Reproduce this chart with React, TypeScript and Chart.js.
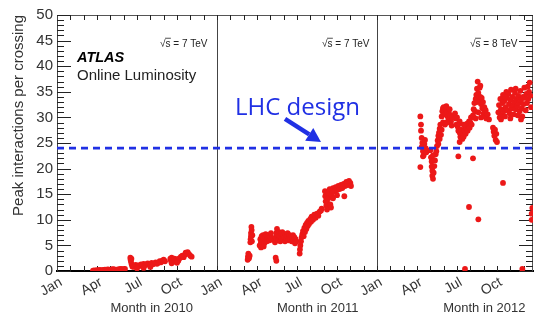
import React, { useEffect, useRef } from 'react';
import { Chart, registerables } from 'chart.js';

Chart.register(...registerables);

// ---------- data ----------
const years = [2010, 2011, 2012];
const quarterLabels = ['Jan', 'Apr', 'Jul', 'Oct'];
const energyLabels = ['7 TeV', '7 TeV', '8 TeV'];
const lhcDesign = 24;
const yMax = 50;
const monthsSpan = 35.7;

// [month within the year (0 = 1 Jan), peak interactions per crossing]
const run2010: [number, number][] = [
  [2.7, 0.05], [2.8, 0.1], [2.9, 0.05], [3.0, 0.15], [3.1, 0.1], [3.2, 0.2], [3.3, 0.1], [3.4, 0.15],
  [3.5, 0.2], [3.6, 0.25], [3.7, 0.2], [3.8, 0.3], [3.9, 0.25], [4.0, 0.2], [4.1, 0.3], [4.2, 0.35],
  [4.3, 0.3], [4.5, 0.25], [4.6, 0.3], [4.7, 0.35], [4.8, 0.4], [4.9, 0.3], [5.0, 0.35], [5.1, 0.4],
  [5.5, 2.6], [5.52, 2.2], [5.55, 1.8], [5.58, 2.4], [5.6, 1.3], [5.65, 0.9], [5.7, 1.1], [5.75, 0.8],
  [5.8, 1.0], [5.9, 1.2], [6.0, 0.9], [6.1, 1.1], [6.2, 1.0], [6.3, 1.3], [6.4, 1.2], [6.5, 1.4],
  [6.6, 1.1], [6.7, 1.3], [6.8, 1.5], [6.9, 1.2], [7.0, 1.4], [7.1, 1.6], [7.2, 1.3], [7.3, 1.5],
  [7.4, 1.7], [7.5, 1.4], [7.6, 1.6], [7.7, 1.9], [7.8, 1.7], [7.9, 2.0], [8.0, 2.2], [8.1, 1.9],
  [6.0, 0.5], [6.5, 0.6], [7.0, 0.8],
  [8.5, 2.4], [8.55, 2.0], [8.6, 2.6], [8.65, 1.7], [8.7, 2.2], [8.8, 2.4], [8.9, 2.1], [9.0, 2.3],
  [9.1, 2.0], [9.2, 2.5], [9.3, 2.8], [9.4, 3.0], [9.5, 2.7], [9.6, 3.2], [9.65, 3.6], [9.7, 3.4],
  [9.8, 3.7], [9.9, 3.3], [10.0, 3.0], [10.1, 2.8], [8.6, 1.5], [9.0, 1.6],
];

const run2011: [number, number][] = [
  [2.3, 2.2], [2.32, 2.8], [2.35, 3.4], [2.4, 2.5], [2.45, 3.0], [2.5, 5.6], [2.52, 6.2], [2.55, 6.8],
  [2.55, 7.4], [2.6, 8.0], [2.58, 8.6], [2.62, 5.8], [2.65, 7.0],
  [3.2, 5.0], [3.25, 6.2], [3.3, 5.6], [3.35, 6.8], [3.4, 6.0], [3.45, 7.0], [3.5, 6.4], [3.55, 5.4],
  [3.6, 6.6], [3.65, 7.2], [3.7, 6.2], [3.75, 5.8], [3.8, 6.6], [3.85, 7.0], [3.9, 6.4], [3.95, 6.0],
  [4.0, 6.8], [4.05, 7.4], [4.1, 6.2], [3.3, 4.6], [3.5, 4.8],
  [4.4, 2.6], [4.45, 2.0], [4.35, 5.6], [4.4, 6.6], [4.45, 7.4], [4.5, 8.2], [4.55, 7.0], [4.6, 6.0],
  [4.65, 7.6], [4.7, 6.8], [4.75, 5.8], [4.8, 7.2], [4.85, 6.4], [4.9, 7.6], [4.95, 6.2], [5.0, 7.0],
  [5.05, 6.6], [5.1, 5.8], [5.15, 7.2], [5.2, 6.4], [5.25, 6.8], [5.3, 7.4], [5.35, 6.0], [5.4, 6.6],
  [5.45, 7.0], [5.5, 6.2], [5.55, 6.8], [5.6, 5.8], [5.65, 6.4], [5.7, 7.0], [5.75, 6.0], [5.8, 6.6],
  [5.85, 5.4], [5.9, 6.2], [5.95, 5.8],
  [6.2, 3.4], [6.22, 4.2], [6.25, 5.0], [6.3, 5.8], [6.35, 6.6], [6.4, 7.2], [6.45, 7.8], [6.5, 6.8],
  [6.55, 8.4], [6.6, 7.6], [6.65, 9.0], [6.7, 8.2], [6.75, 9.4], [6.8, 8.8], [6.85, 9.8], [6.9, 9.2],
  [7.0, 10.2], [7.05, 9.6], [7.1, 10.6], [7.2, 10.0], [7.3, 11.0], [7.4, 10.4], [7.5, 11.2], [7.6, 10.8],
  [7.7, 11.6], [7.8, 11.8], [7.85, 12.2],
  [8.1, 15.6], [8.12, 14.6], [8.15, 13.6], [8.2, 12.8], [8.25, 12.0], [8.3, 13.2], [8.35, 14.2], [8.4, 15.2],
  [8.45, 16.0], [8.5, 13.0], [8.55, 12.4], [8.6, 14.8], [8.65, 15.8], [8.7, 16.2], [8.8, 15.6], [8.9, 16.4],
  [9.0, 15.8], [9.1, 16.6], [9.2, 16.0], [9.3, 16.8], [9.4, 16.2], [9.5, 17.0], [9.55, 14.6], [9.6, 16.6],
  [9.7, 17.4], [9.8, 16.8], [9.9, 17.6], [10.0, 17.2], [10.05, 16.6], [8.7, 14.2], [9.0, 14.8],
];

const run2012: [number, number][] = [
  [3.25, 30.2], [3.3, 28.6], [3.3, 27.4], [3.35, 26.0], [3.4, 25.0], [3.35, 24.2], [3.45, 23.4], [3.5, 22.6],
  [3.25, 20.3], [3.45, 22.4], [3.55, 24.8], [3.6, 25.6], [3.65, 24.0], [3.7, 23.2],
  [4.0, 23.6], [4.05, 22.2], [4.1, 21.4], [4.1, 20.4], [4.15, 19.6], [4.15, 18.6], [4.2, 18.0], [4.25, 19.2],
  [4.3, 20.5], [4.35, 21.6], [4.4, 22.8], [4.45, 23.4], [4.5, 24.4], [4.2, 22.6],
  [4.55, 25.5], [4.6, 26.4], [4.65, 27.0], [4.7, 27.8], [4.75, 28.6], [4.6, 24.8], [4.7, 25.8], [4.8, 26.6],
  [4.85, 27.6],
  [4.85, 30.2], [4.9, 31.2], [4.95, 31.8], [5.0, 32.0], [5.05, 31.4], [5.1, 30.6], [5.15, 31.6], [5.2, 32.2],
  [5.25, 31.0], [5.3, 30.2], [5.35, 29.4], [5.4, 30.8], [5.45, 31.6], [5.5, 30.4], [5.55, 29.2], [5.6, 28.4],
  [4.95, 29.0], [5.1, 28.6], [5.25, 29.0], [5.65, 30.0],
  [5.85, 30.8], [5.9, 29.8], [5.95, 28.6], [6.0, 30.0], [6.05, 28.2], [6.1, 27.4], [6.15, 28.8], [6.2, 27.0],
  [6.25, 26.2], [6.3, 27.6], [6.35, 26.6], [6.4, 25.8], [6.45, 27.0], [6.5, 26.2], [6.55, 27.4], [6.6, 28.2],
  [6.65, 26.8], [6.7, 27.8], [6.75, 28.8], [6.8, 27.4], [6.85, 28.4], [6.9, 29.2], [6.95, 28.0], [7.0, 29.0],
  [7.05, 30.0], [7.1, 28.6], [6.2, 29.2], [6.5, 28.6],
  [7.2, 30.4], [7.25, 31.6], [7.3, 32.8], [7.35, 31.2], [7.4, 33.6], [7.45, 34.4], [7.5, 35.6], [7.55, 37.0],
  [7.6, 34.8], [7.65, 33.2], [7.7, 35.8], [7.75, 34.0], [7.8, 32.6], [7.85, 33.8], [7.9, 31.8], [7.95, 33.0],
  [8.0, 30.8], [8.05, 32.0], [8.1, 30.2], [8.15, 31.4], [8.2, 29.8], [8.3, 30.6], [8.4, 29.6], [7.4, 29.8],
  [7.6, 31.0], [7.8, 30.0], [7.75, 36.2], [7.5, 33.0],
  [8.7, 28.0], [8.75, 27.2], [8.8, 26.4], [8.85, 27.6], [8.9, 25.6], [8.95, 26.8], [9.0, 25.2],
  [9.1, 31.0], [9.15, 32.4], [9.2, 30.0], [9.25, 33.6], [9.3, 31.6], [9.35, 30.4], [9.4, 32.8], [9.45, 34.4],
  [9.5, 31.2], [9.55, 33.2], [9.6, 30.2], [9.65, 32.0], [9.7, 35.0], [9.75, 33.8], [9.8, 31.4], [9.85, 34.6],
  [9.9, 32.6], [9.95, 30.8], [10.0, 33.4], [10.05, 35.4], [10.1, 31.8], [10.15, 34.0], [10.2, 32.4], [10.25, 30.6],
  [10.3, 33.0], [10.35, 34.8], [10.4, 31.6], [10.45, 33.6], [10.5, 32.2], [10.55, 30.4], [10.6, 34.2], [10.65, 32.8],
  [10.7, 31.2], [10.75, 35.2], [10.8, 33.4], [10.85, 31.8], [10.9, 30.2], [10.95, 34.0], [11.0, 32.6], [11.05, 35.8],
  [11.1, 33.8], [11.15, 31.4], [11.2, 34.6], [11.25, 32.8], [11.3, 36.0], [11.35, 33.6], [11.4, 35.0], [11.45, 36.8],
  [11.5, 34.2], [11.55, 32.0], [9.3, 29.6], [10.0, 29.8], [10.8, 29.6], [9.6, 34.0], [10.4, 35.6],
  [6.1, 22.4], [7.2, 22.0], [9.45, 17.2], [6.9, 12.5], [7.6, 10.1], [6.6, 0.4], [10.9, 0.4],
  [11.6, 10.0], [11.6, 11.2], [11.65, 12.3], [6.2, 25.2],
];

const runs = [run2010, run2011, run2012];

// ---------- styling ----------
const RED = 'rgb(236,24,24)';
const BLUE = 'rgb(32,48,228)';
const FONT = '"Liberation Sans", Arial, Helvetica, sans-serif';

const decorPlugin = {
  id: 'atlasDecor',
  beforeDatasetsDraw(chart: any) {
    const { ctx, chartArea: a, scales } = chart;
    const xs = scales.x;
    const ys = scales.y;
    ctx.save();
    ctx.strokeStyle = '#555';
    ctx.lineWidth = 1;
    ctx.beginPath();
    ctx.moveTo(a.left, a.top + 0.5);
    ctx.lineTo(a.right, a.top + 0.5);
    ctx.moveTo(a.right - 0.5, a.top);
    ctx.lineTo(a.right - 0.5, a.bottom);
    ctx.stroke();
    ctx.strokeStyle = '#222';
    ctx.beginPath();
    for (let m = 1; m < monthsSpan; m++) {
      const x = Math.round(xs.getPixelForValue(m)) + 0.5;
      ctx.moveTo(x, a.bottom);
      ctx.lineTo(x, a.bottom - 5);
      ctx.moveTo(x, a.top);
      ctx.lineTo(x, a.top + 5);
    }
    for (let v = 0; v <= yMax; v++) {
      const y = Math.round(ys.getPixelForValue(v)) + 0.5;
      const len = v % 5 === 0 ? 14 : 7;
      ctx.moveTo(a.left, y);
      ctx.lineTo(a.left + len, y);
      ctx.moveTo(a.right, y);
      ctx.lineTo(a.right - len, y);
    }
    ctx.stroke();
    ctx.restore();
  },
  afterDatasetsDraw(chart: any) {
    const { ctx, chartArea: a, scales } = chart;
    const px = (m: number) => scales.x.getPixelForValue(m);
    const py = (v: number) => scales.y.getPixelForValue(v);
    ctx.save();
    // ATLAS label
    ctx.fillStyle = '#000';
    ctx.textAlign = 'left';
    ctx.textBaseline = 'alphabetic';
    ctx.font = `italic bold 14.5px ${FONT}`;
    ctx.fillText('ATLAS', px(1.5), py(40.9));
    ctx.fillStyle = '#222';
    ctx.font = `15px ${FONT}`;
    ctx.fillText('Online Luminosity', px(1.5), py(37.3));

    // sqrt(s) labels
    const sqrtStarts = [7.73, 19.88, 30.98];
    ctx.font = `10px ${FONT}`;
    ctx.fillStyle = '#222';
    ctx.strokeStyle = '#222';
    ctx.lineWidth = 0.8;
    years.forEach((_, i) => {
      const x = px(sqrtStarts[i]);
      const y = py(43.8);
      ctx.fillText('\u221A', x, y);
      const w1 = ctx.measureText('\u221A').width;
      const ws = ctx.measureText('s').width;
      ctx.fillText('s = ' + energyLabels[i], x + w1, y);
      ctx.beginPath();
      ctx.moveTo(x + w1 - 0.5, y - 8.5);
      ctx.lineTo(x + w1 + ws + 0.3, y - 8.5);
      ctx.stroke();
    });

    // LHC design
    ctx.fillStyle = BLUE;
    ctx.font = `24px "Open Sans", "Liberation Sans", sans-serif`;
    ctx.fillText('LHC design', px(13.35), py(30.5));
    const x0 = px(17.1), y0 = py(29.7), x1 = px(19.8), y1 = py(25.2);
    const ang = Math.atan2(y1 - y0, x1 - x0);
    const head = 14, hw = 7.5;
    const bx = x1 - head * Math.cos(ang), by = y1 - head * Math.sin(ang);
    ctx.strokeStyle = BLUE;
    ctx.lineWidth = 4.5;
    ctx.beginPath();
    ctx.moveTo(x0, y0);
    ctx.lineTo(bx, by);
    ctx.stroke();
    ctx.beginPath();
    ctx.moveTo(x1, y1);
    ctx.lineTo(bx + hw * Math.sin(ang), by - hw * Math.cos(ang));
    ctx.lineTo(bx - hw * Math.sin(ang), by + hw * Math.cos(ang));
    ctx.closePath();
    ctx.fill();

    // month titles
    const titleCenters = [7.1, 19.55, 32.05];
    ctx.fillStyle = '#333';
    ctx.font = `13px ${FONT}`;
    ctx.textAlign = 'center';
    years.forEach((yr, i) => {
      ctx.fillText(`Month in ${yr}`, px(titleCenters[i]), a.bottom + 41);
    });
    ctx.restore();
  },
};

export default function App() {
  const canvasRef = useRef<HTMLCanvasElement | null>(null);

  useEffect(() => {
    if (!canvasRef.current) return;
    const scatterSets = runs.map((run, i) => ({
      label: `Run ${years[i]}`,
      data: run.map(([m, v]) => ({ x: m + 12 * i, y: v })),
      backgroundColor: RED,
      borderWidth: 0,
      pointRadius: 2.9,
      pointBorderWidth: 0,
      order: 2,
    }));
    const chart = new Chart(canvasRef.current, {
      type: 'scatter',
      data: {
        datasets: [
          {
            label: 'LHC design',
            data: [{ x: 0, y: lhcDesign }, { x: monthsSpan, y: lhcDesign }],
            showLine: true,
            borderColor: BLUE,
            borderWidth: 2.6,
            borderDash: [7, 5],
            pointRadius: 0,
            order: 0,
          } as any,
          ...scatterSets,
        ],
      },
      options: {
        animation: false,
        responsive: false,
        maintainAspectRatio: false,
        layout: { padding: { top: 15, right: 6, left: 0, bottom: 0 } },
        plugins: { legend: { display: false }, tooltip: { enabled: false } },
        scales: {
          x: {
            type: 'linear',
            min: 0,
            max: monthsSpan,
            afterFit: (s: any) => {
              s.height = 43;
              s.paddingLeft = 0;
              s.paddingRight = 0;
            },
            grid: {
              drawTicks: false,
              color: (c: any) => (c.tick && (c.tick.value === 12 || c.tick.value === 24) ? '#444' : 'rgba(0,0,0,0)'),
              lineWidth: 1,
            },
            border: { display: true, color: '#000', width: 2 },
            ticks: {
              stepSize: 1,
              autoSkip: false,
              minRotation: 30,
              maxRotation: 30,
              padding: 3,
              labelOffset: 4,
              color: '#333',
              font: { family: FONT, size: 14 },
              callback: (val: any) => {
                const v = Number(val);
                if (Math.abs(v - Math.round(v)) > 1e-6) return '';
                const m = Math.round(v) % 12;
                return m % 3 === 0 ? quarterLabels[m / 3] : '';
              },
            },
          },
          y: {
            min: 0,
            max: yMax,
            afterFit: (s: any) => {
              s.width = 57;
              s.paddingTop = 0;
              s.paddingBottom = 0;
            },
            grid: { display: false, drawTicks: false },
            border: { display: true, color: '#444', width: 1 },
            ticks: {
              stepSize: 5,
              padding: 4,
              color: '#333',
              font: { family: FONT, size: 15 },
            },
            title: {
              display: true,
              text: 'Peak interactions per crossing',
              align: 'end',
              color: '#333',
              font: { family: FONT, size: 15 },
              padding: { top: 10, bottom: 0 },
            },
          },
        },
      },
      plugins: [decorPlugin],
    });
    return () => chart.destroy();
  }, []);

  return (
    <div style={{ position: 'absolute', left: 0, top: 0, width: 539, height: 314, background: '#fff' }}>
      <canvas ref={canvasRef} width={539} height={314} style={{ width: 539, height: 314 }} />
    </div>
  );
}
